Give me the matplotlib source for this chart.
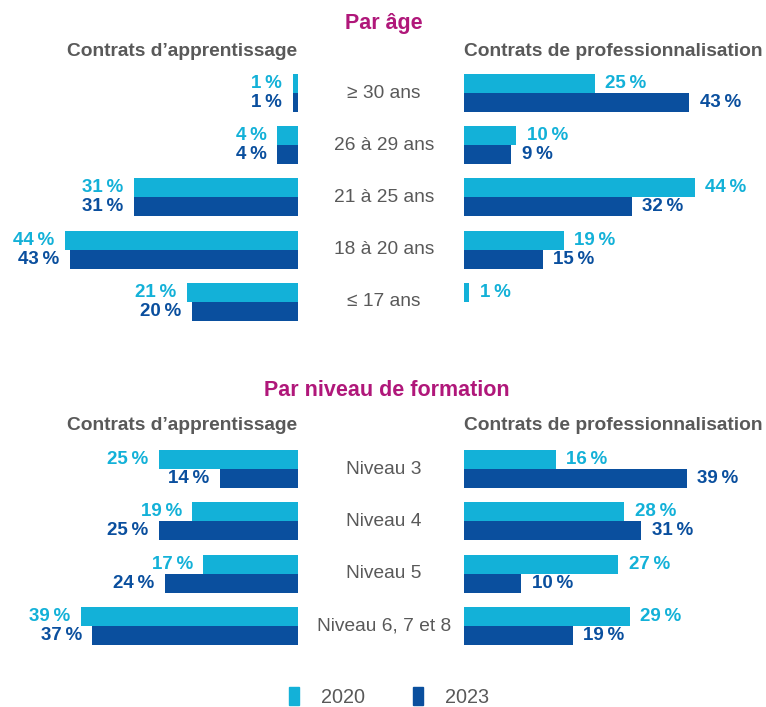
import matplotlib
matplotlib.use("Agg")
import matplotlib.pyplot as plt
from matplotlib.patches import Patch
from matplotlib.transforms import blended_transform_factory

plt.rcParams['font.family'] = ['Liberation Sans', 'DejaVu Sans']

# Données
age_labels = ["≥ 30 ans", "26 à 29 ans", "21 à 25 ans", "18 à 20 ans", "≤ 17 ans"]
age_appr_2020 = [1, 4, 31, 44, 21]
age_appr_2023 = [1, 4, 31, 43, 20]
age_pro_2020 = [25, 10, 44, 19, 1]
age_pro_2023 = [43, 9, 32, 15, 0]

niv_labels = ["Niveau 3", "Niveau 4", "Niveau 5", "Niveau 6, 7 et 8"]
niv_appr_2020 = [25, 19, 17, 39]
niv_appr_2023 = [14, 25, 24, 37]
niv_pro_2020 = [16, 28, 27, 29]
niv_pro_2023 = [39, 31, 10, 19]

years = ["2020", "2023"]

C_LIGHT = '#13B1D8'
C_DARK = '#0A4F9E'
C_TITLE = '#B0177A'
C_GREY = '#595959'

W, H = 766, 707
fig = plt.figure(figsize=(W / 100, H / 100), dpi=100)


def px_axes(x0, top, w, h):
    ax = fig.add_axes([x0 / W, 1 - (top + h) / H, w / W, h / H])
    ax.axis('off')
    return ax


def draw_panel(ax, v2020, v2023, side):
    bh = 0.365
    n = len(v2020)
    ys = list(range(n))
    ax.barh([y - bh / 2 for y in ys], v2020, height=bh, color=C_LIGHT)
    ax.barh([y + bh / 2 for y in ys], v2023, height=bh, color=C_DARK)
    off = -7.5 if side == 'left' else 7.5
    ha = 'right' if side == 'left' else 'left'
    for y, a, b in zip(ys, v2020, v2023):
        for v, yy, c in ((a, y - bh / 2, C_LIGHT), (b, y + bh / 2, C_DARK)):
            if v == 0:
                continue
            ax.annotate(f"{v}\u2009%", xy=(v, yy), xytext=(off, 0),
                        textcoords='offset points', ha=ha, va='center',
                        color=c, fontsize=13.5, fontweight='bold',
                        annotation_clip=False)
    ax.set_ylim(n - 0.5, -0.5)


def section(labels, appr20, appr23, pro20, pro23, top, step, sc_left, sc_right):
    n = len(labels)
    h = n * step
    axw = 280
    axl = px_axes(298 - axw, top, axw, h)
    axl.set_xlim(axw / sc_left, 0)
    draw_panel(axl, appr20, appr23, 'left')
    axr = px_axes(464, top, axw, h)
    axr.set_xlim(0, axw / sc_right)
    draw_panel(axr, pro20, pro23, 'right')
    tr = blended_transform_factory(fig.transFigure, axl.transData)
    for i, lab in enumerate(labels):
        axl.text(384 / W, i, lab, transform=tr, ha='center', va='center',
                 fontsize=13.8, color=C_GREY)


# Par âge
fig.text(384 / W, 1 - 23 / H, "Par âge", ha='center', va='center',
         fontsize=15.5, fontweight='bold', color=C_TITLE)
fig.text(297 / W, 1 - 52 / H, "Contrats d’apprentissage", ha='right',
         va='center', fontsize=13.8, fontweight='bold', color=C_GREY)
fig.text(464 / W, 1 - 52 / H, "Contrats de professionnalisation", ha='left',
         va='center', fontsize=13.8, fontweight='bold', color=C_GREY)
section(age_labels, age_appr_2020, age_appr_2023, age_pro_2020, age_pro_2023,
        top=93 - 26.1, step=52.2, sc_left=5.3, sc_right=5.24)

# Par niveau de formation
fig.text(387 / W, 1 - 391 / H, "Par niveau de formation", ha='center',
         va='center', fontsize=15.5, fontweight='bold', color=C_TITLE)
fig.text(297 / W, 1 - 425 / H, "Contrats d’apprentissage", ha='right',
         va='center', fontsize=13.8, fontweight='bold', color=C_GREY)
fig.text(464 / W, 1 - 425 / H, "Contrats de professionnalisation", ha='left',
         va='center', fontsize=13.8, fontweight='bold', color=C_GREY)
section(niv_labels, niv_appr_2020, niv_appr_2023, niv_pro_2020, niv_pro_2023,
        top=469 - 26.15, step=52.3, sc_left=5.56, sc_right=5.72)

# Légende
handles = [Patch(color=C_LIGHT), Patch(color=C_DARK)]
fig.legend(handles, years, ncol=2, loc='center', bbox_to_anchor=(389 / W, 1 - 697 / H),
           frameon=False, fontsize=14.3, labelcolor=C_GREY, handlelength=0.5,
           handleheight=1.0, handletextpad=1.1, columnspacing=2.4)

fig.savefig("out.png", dpi=100)
